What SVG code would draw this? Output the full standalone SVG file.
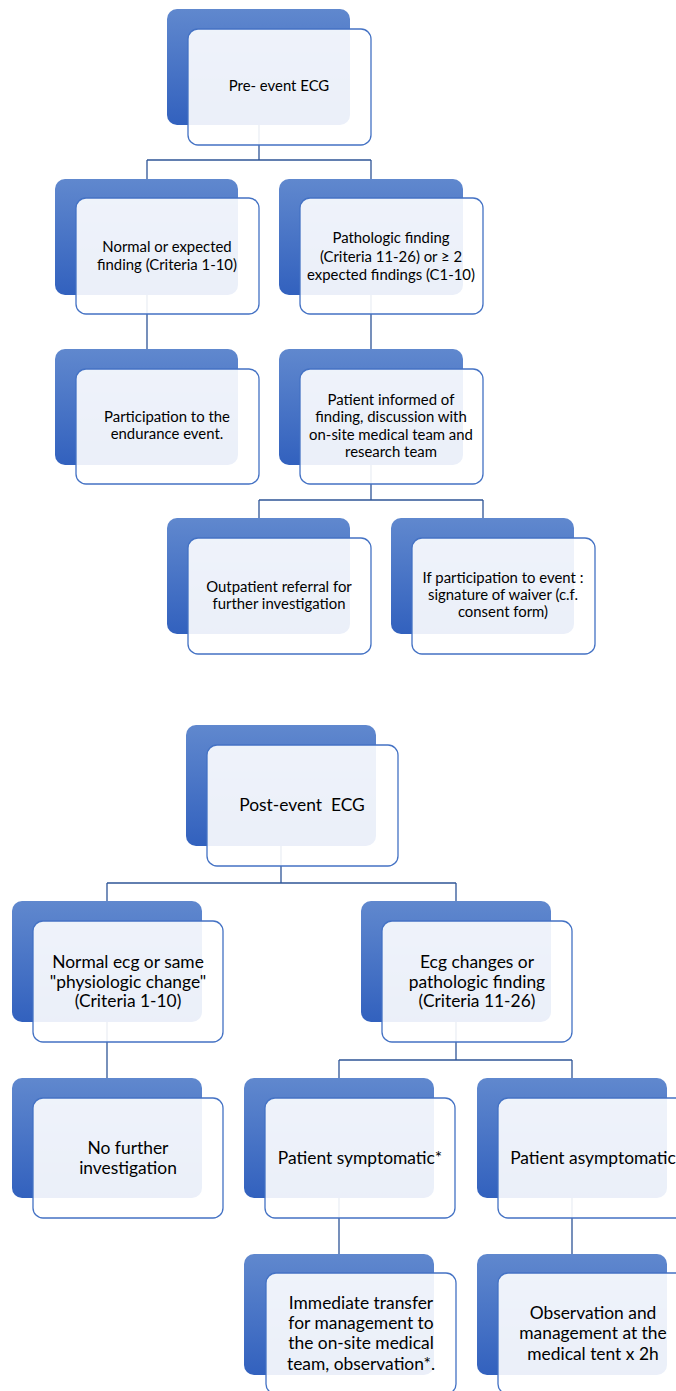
<svg xmlns="http://www.w3.org/2000/svg" width="676" height="1391" viewBox="0 0 676 1391">
<defs>
<linearGradient id="bg" x1="0" y1="0" x2="0" y2="1">
<stop offset="0" stop-color="#6088CE"/>
<stop offset="1" stop-color="#3261BE"/>
</linearGradient>
<style>
.back{fill:url(#bg);}
.front{fill:#ffffff;fill-opacity:0.9;stroke:#4472C4;stroke-width:1.3;}
.conn{fill:none;stroke:#2F5597;stroke-width:1.3;}
text{font-family:Lato,"Liberation Sans",sans-serif;fill:#000;text-anchor:middle;}
.t1{font-size:14.9px;}
.t2{font-size:17.4px;}
</style>
</defs>
<rect width="676" height="1391" fill="#ffffff"/>
<g id="connectors">
<path class="conn" d="M259,125 V160 M147,160 H371 M147,160 V179 M371,160 V179"/>
<path class="conn" d="M147,295 V349 M371,295 V349"/>
<path class="conn" d="M371,465 V500 M259,500 H483 M259,500 V518 M483,500 V518"/>
<path class="conn" d="M281,846 V883 M107,883 H456 M107,883 V901 M456,883 V901"/>
<path class="conn" d="M107,1022 V1078"/>
<path class="conn" d="M456,1022 V1060 M339,1060 H572 M339,1060 V1078 M572,1060 V1078"/>
<path class="conn" d="M339,1198 V1254 M572,1198 V1254"/>
</g>
<g id="n1">
<rect class="back" x="167" y="9" width="183" height="116" rx="10"/>
<rect class="front" x="188" y="29" width="183" height="116" rx="10"/>
<text class="t1" x="279" y="91">Pre- event ECG</text>
</g>
<g id="n2">
<rect class="back" x="55" y="179" width="183" height="116" rx="10"/>
<rect class="front" x="76" y="198" width="183" height="116" rx="10"/>
<text class="t1" x="167" y="252">Normal or expected</text>
<text class="t1" x="167" y="270">finding (Criteria 1-10)</text>
</g>
<g id="n3">
<rect class="back" x="279" y="179" width="184" height="116" rx="10"/>
<rect class="front" x="300" y="198" width="183" height="116" rx="10"/>
<text class="t1" x="391" y="243">Pathologic finding</text>
<text class="t1" x="391" y="262">(Criteria 11-26) or ≥ 2</text>
<text class="t1" x="391" y="280">expected findings (C1-10)</text>
</g>
<g id="n4">
<rect class="back" x="55" y="349" width="183" height="116" rx="10"/>
<rect class="front" x="76" y="369" width="183" height="115" rx="10"/>
<text class="t1" x="167" y="422">Participation to the</text>
<text class="t1" x="167" y="439">endurance event.</text>
</g>
<g id="n5">
<rect class="back" x="279" y="349" width="184" height="116" rx="10"/>
<rect class="front" x="300" y="369" width="183" height="115" rx="10"/>
<text class="t1" x="391" y="405">Patient informed of</text>
<text class="t1" x="391" y="422">finding, discussion with</text>
<text class="t1" x="391" y="440">on-site medical team and</text>
<text class="t1" x="391" y="457">research team</text>
</g>
<g id="n6">
<rect class="back" x="167" y="518" width="183" height="116" rx="10"/>
<rect class="front" x="188" y="538" width="183" height="116" rx="10"/>
<text class="t1" x="279" y="592">Outpatient referral for</text>
<text class="t1" x="279" y="609">further investigation</text>
</g>
<g id="n7">
<rect class="back" x="391" y="518" width="183" height="116" rx="10"/>
<rect class="front" x="412" y="538" width="183" height="116" rx="10"/>
<text class="t1" x="503" y="583">If participation to event :</text>
<text class="t1" x="503" y="600">signature of waiver (c.f.</text>
<text class="t1" x="503" y="617">consent form)</text>
</g>
<g id="m1">
<rect class="back" x="186" y="725" width="190" height="121" rx="10"/>
<rect class="front" x="207" y="745" width="191" height="121" rx="10"/>
<text class="t2" x="302" y="811" xml:space="preserve">Post-event  ECG</text>
</g>
<g id="m2">
<rect class="back" x="12" y="901" width="190" height="121" rx="10"/>
<rect class="front" x="33" y="921" width="190" height="121" rx="10"/>
<text class="t2" x="128" y="968">Normal ecg or same</text>
<text class="t2" x="128" y="988">"physiologic change"</text>
<text class="t2" x="128" y="1007">(Criteria 1-10)</text>
</g>
<g id="m3">
<rect class="back" x="361" y="901" width="190" height="121" rx="10"/>
<rect class="front" x="382" y="921" width="190" height="121" rx="10"/>
<text class="t2" x="477" y="968">Ecg changes or</text>
<text class="t2" x="477" y="988">pathologic finding</text>
<text class="t2" x="477" y="1007">(Criteria 11-26)</text>
</g>
<g id="m4">
<rect class="back" x="12" y="1078" width="190" height="120" rx="10"/>
<rect class="front" x="33" y="1098" width="190" height="120" rx="10"/>
<text class="t2" x="128" y="1154">No further</text>
<text class="t2" x="128" y="1174">investigation</text>
</g>
<g id="m5">
<rect class="back" x="244" y="1078" width="190" height="120" rx="10"/>
<rect class="front" x="265" y="1098" width="190" height="120" rx="10"/>
<text class="t2" x="360" y="1164">Patient symptomatic*</text>
</g>
<g id="m6">
<rect class="back" x="477" y="1078" width="190" height="120" rx="10"/>
<rect class="front" x="498" y="1098" width="190" height="120" rx="10"/>
<text class="t2" x="593" y="1164">Patient asymptomatic</text>
</g>
<g id="m7">
<rect class="back" x="244" y="1254" width="190" height="121" rx="10"/>
<rect class="front" x="266" y="1273" width="190" height="121" rx="10"/>
<text class="t2" x="361" y="1309">Immediate transfer</text>
<text class="t2" x="361" y="1329">for management to</text>
<text class="t2" x="361" y="1349">the on-site medical</text>
<text class="t2" x="361" y="1370">team, observation*.</text>
</g>
<g id="m8">
<rect class="back" x="477" y="1254" width="190" height="121" rx="10"/>
<rect class="front" x="498" y="1273" width="190" height="121" rx="10"/>
<text class="t2" x="593" y="1319">Observation and</text>
<text class="t2" x="593" y="1339">management at the</text>
<text class="t2" x="593" y="1360">medical tent x 2h</text>
</g>
</svg>
